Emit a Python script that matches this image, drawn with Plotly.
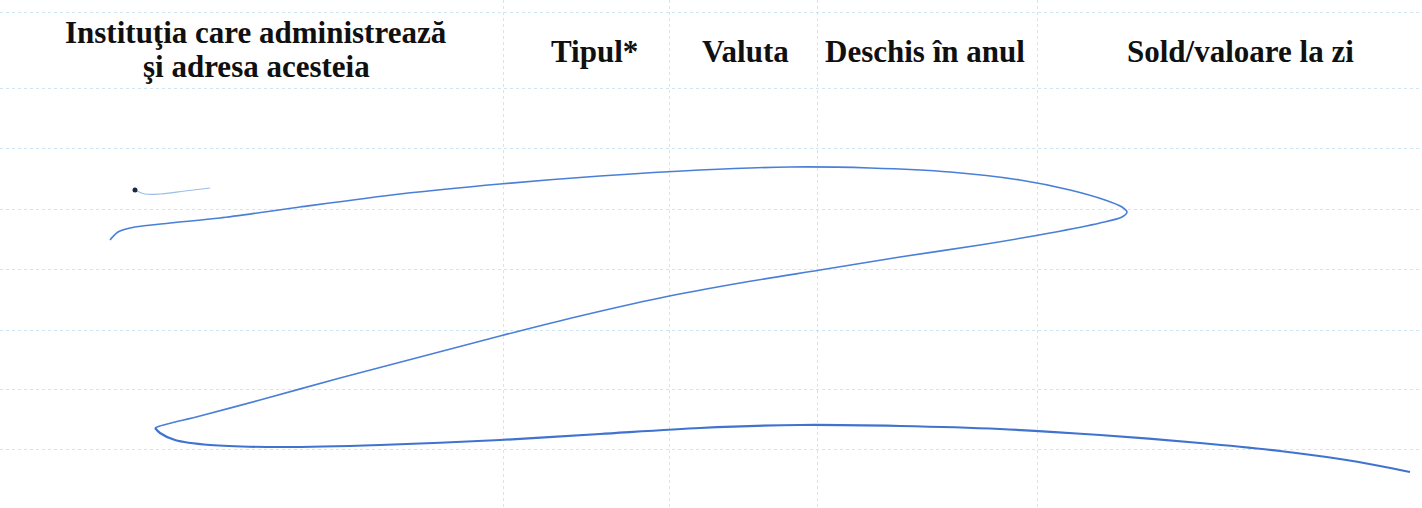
import plotly.graph_objects as go

# Table header (column titles) and their centres
header_labels = ["Instituţia care administrează", "şi adresa acesteia", "Tipul*", "Valuta", "Deschis în anul", "Sold/valoare la zi"]
header_x = [256, 256, 594, 745, 925, 1240]
header_y = [32, 66, 51, 51, 51, 51]

# Table grid positions (column separators and row lines)
col_lines = [503, 669, 817, 1037]
row_lines = [12, 88, 148, 209, 269, 330, 389, 449]

# Pen stroke (the "Z" crossing out the empty table)
stroke_top_x = [110, 118, 135, 170, 220, 300, 400, 500, 600, 700, 790, 870, 950, 1020, 1070, 1105, 1122, 1127,
                1122, 1100, 1050, 980, 900, 820, 740, 660, 580, 500, 420, 340, 260, 200, 160, 155]
stroke_top_y = [240, 232, 227, 223, 218, 207, 194, 184, 176, 170, 167, 168, 172, 180, 190, 200, 207, 212,
                217, 223, 233, 245, 257, 270, 283, 298, 316, 336, 357, 378, 400, 416, 426, 428]
stroke_bottom_x = [155, 160, 175, 210, 280, 380, 500, 600, 700, 800, 900, 1000, 1100, 1200, 1280, 1340, 1380, 1410]
stroke_bottom_y = [428, 433, 440, 445, 447, 445, 440, 434, 428, 425, 426, 429, 435, 443, 451, 459, 466, 472]
tick_x = [137, 145, 160, 185, 210]
tick_y = [191, 194, 194, 191, 188]
dot_x = [135]
dot_y = [190]

pen = "#4a7fd8"

fig = go.Figure()
fig.add_trace(go.Scatter(x=stroke_top_x, y=stroke_top_y, mode="lines",
                         line=dict(color=pen, width=1.6, shape="spline", smoothing=0.8),
                         hoverinfo="skip", showlegend=False))
fig.add_trace(go.Scatter(x=stroke_bottom_x, y=stroke_bottom_y, mode="lines",
                         line=dict(color="#3f73cf", width=2.2, shape="spline", smoothing=0.8),
                         hoverinfo="skip", showlegend=False))
fig.add_trace(go.Scatter(x=tick_x, y=tick_y, mode="lines",
                         line=dict(color="#9dbde8", width=1.2, shape="spline"),
                         hoverinfo="skip", showlegend=False))
fig.add_trace(go.Scatter(x=dot_x, y=dot_y, mode="markers",
                         marker=dict(color="#1a2a40", size=5),
                         hoverinfo="skip", showlegend=False))

for t, x, y in zip(header_labels, header_x, header_y):
    fig.add_annotation(x=x, y=y, xref="x", yref="y", text="<b>" + t + "</b>", showarrow=False,
                       font=dict(family="Liberation Serif", size=31, color="#101010"),
                       xanchor="center", yanchor="middle")

grid = "rgba(150,200,228,0.45)"
fig.update_xaxes(range=[0, 1422], tickvals=col_lines, showticklabels=False, ticks="",
                 showgrid=True, gridcolor=grid, gridwidth=1, griddash="dot",
                 zeroline=False, showline=False, fixedrange=True)
fig.update_yaxes(range=[508, 0], tickvals=row_lines, showticklabels=False, ticks="",
                 showgrid=True, gridcolor=grid, gridwidth=1, griddash="dot",
                 zeroline=False, showline=False, fixedrange=True)
fig.update_layout(width=1422, height=508, margin=dict(l=0, r=0, t=0, b=0),
                  paper_bgcolor="white", plot_bgcolor="white", autosize=False)

fig.write_html("out.html", config={"displayModeBar": False},
               post_script="document.body.style.margin='0';document.body.style.overflow='hidden';")
